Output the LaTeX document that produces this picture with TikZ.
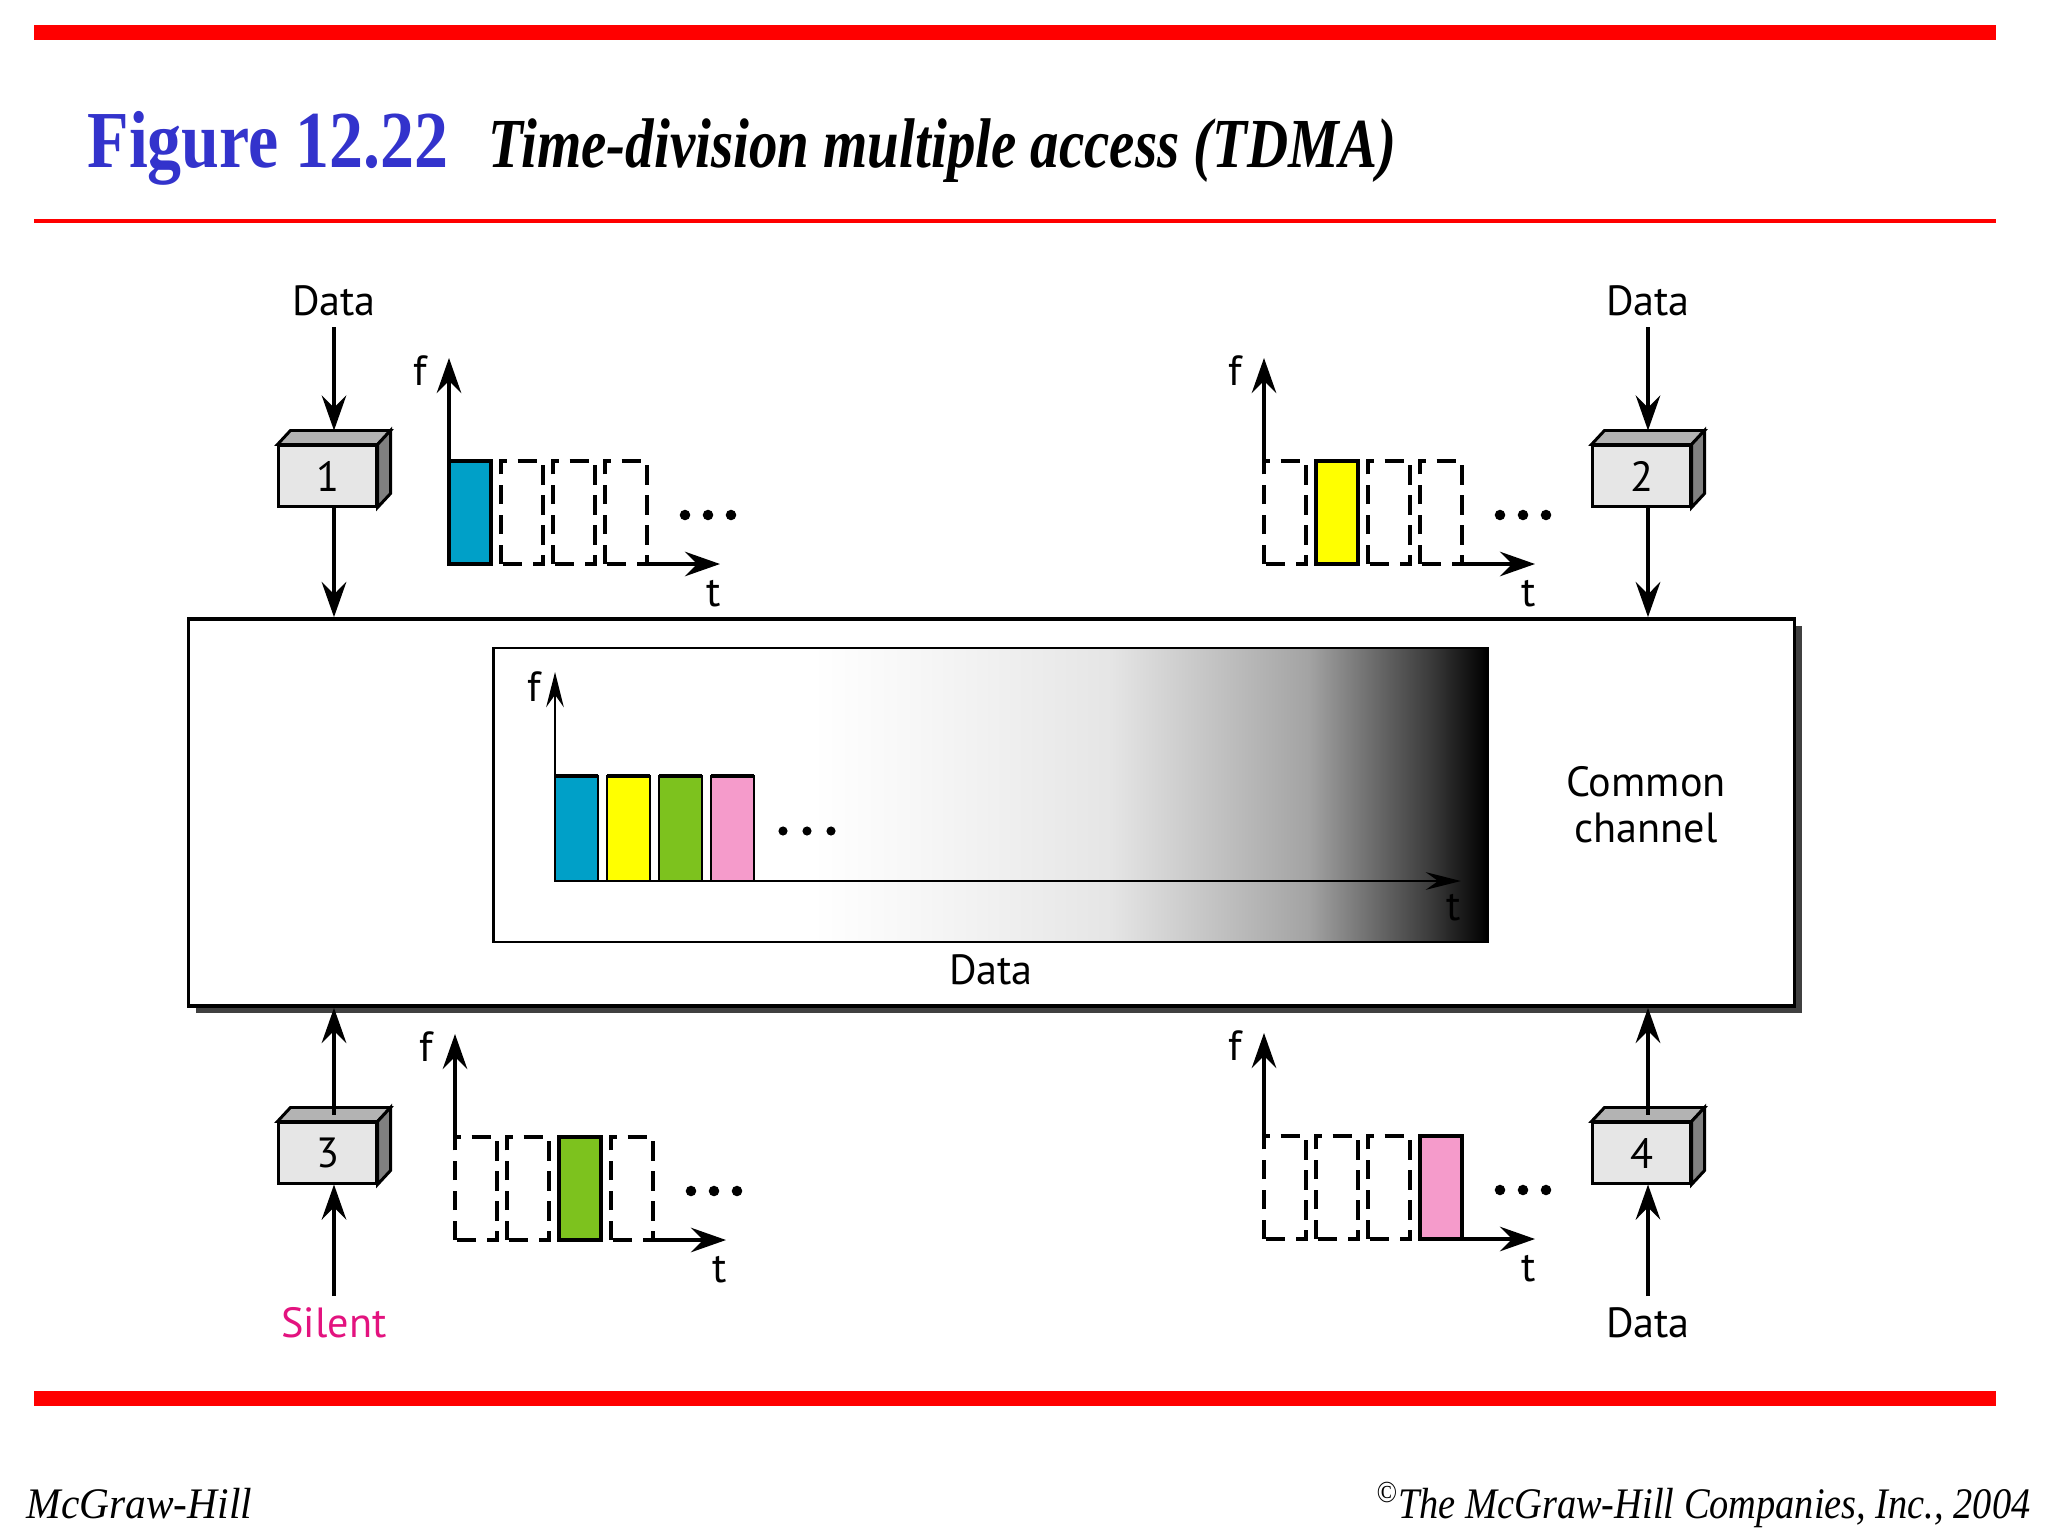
\documentclass[tikz,border=0pt]{standalone}
\usepackage{fontspec}
\setmainfont{Liberation Serif}
\newfontfamily\diagfont{PT Sans}
\usetikzlibrary{arrows.meta, positioning, calc, shadows}
\definecolor{slidered}{HTML}{FF0000}
\definecolor{figblue}{HTML}{3333CC}
\definecolor{slotblue}{HTML}{00A0C8}
\definecolor{slotyellow}{HTML}{FFFF00}
\definecolor{slotgreen}{HTML}{7DC21E}
\definecolor{slotpink}{HTML}{F59BCB}
\definecolor{silentpink}{HTML}{E3137F}
\definecolor{boxfront}{HTML}{E6E6E6}
\definecolor{boxtop}{HTML}{B3B3B3}
\definecolor{boxside}{HTML}{808080}
\pgfdeclarehorizontalshading{fadeblack}{100bp}{color(0bp)=(white); color(25bp)=(white);
  color(41bp)=(white); color(46bp)=(black!3); color(56bp)=(black!10); color(66bp)=(black!36);
  color(72bp)=(black!76); color(75bp)=(black); color(100bp)=(black)}
\tikzset{
  station/.style   = {rectangle, draw=black, line width=0.85pt, fill=boxfront,
                      minimum width=0.97cm, minimum height=0.6cm, inner sep=0pt,
                      font=\diagfont\fontsize{12}{12}\selectfont},
  facetop/.style   = {draw=black, line width=0.85pt, fill=boxtop},
  faceside/.style  = {draw=black, line width=0.85pt, fill=boxside},
  chanbox/.style   = {rectangle, draw=black, line width=1pt, fill=white,
                      general shadow={fill=black!75, shadow xshift=2pt, shadow yshift=-2pt}},
  muxbox/.style    = {rectangle, draw=black, line width=0.7pt, shading=fadeblack},
  lbl/.style       = {font=\diagfont\fontsize{12}{13}\selectfont, inner sep=3pt},
  foot/.style      = {font=\fontsize{12.4}{12.4}\selectfont\itshape, inner sep=0pt},
  flow/.style      = {-{Stealth[length=10pt, width=7pt, inset=3.5pt]}, line width=1.1pt},
  axis/.style      = {-{Stealth[length=10pt, width=7pt, inset=3.5pt]}, line width=0.9pt},
  thinaxis/.style  = {-{Stealth[length=10pt, width=5pt, inset=3.5pt]}, line width=0.7pt},
  slotfull/.style  = {draw=black, line width=0.9pt},
  slotempty/.style = {draw=black, line width=1pt, dash pattern=on 5.5pt off 3pt},
}
% 3-d station box: #1 name, #2/#3 centre of front face, #4 number
\newcommand{\stationbox}[4]{
  \node[station] (#1) at (#2,#3) {#4};
  \path[facetop] (#1.north west) -- ++(13,-14) -- ($(#1.north east)+(13,-14)$) -- (#1.north east) -- cycle;
  \path[faceside] (#1.north east) -- ++(13,-14) -- ($(#1.south east)+(13,-14)$) -- (#1.south east) -- cycle;
  \coordinate (#1top) at ($(#1.north)+(6.5,-14)$);
  \coordinate (#1mid) at ($(#1.north)+(6.5,-7)$);
}
% f/t slot chart: #1 name, #2/#3 origin, #4 used slot, #5 colour
\newcommand{\tdmachart}[5]{
  \coordinate (#1o) at (#2,#3);
  \foreach \k in {0,...,3}{
    \ifnum\k=#4
      \draw[slotfull, fill=#5] ($(#1o)+(52*\k,0)$) rectangle ++(42,-103);
    \else
      \draw[slotempty] ($(#1o)+(52*\k,0)$) rectangle ++(42,-103);
    \fi
  }
  \draw[axis] ($(#1o)+(0,-103)$) -- ++(0,-103);
  \draw[axis] ($(#1o)+(198,0)$) -- ++(73,0);
  \foreach \d in {236,259,282}
    \fill ($(#1o)+(\d,-49)$) circle (1.5pt);
  \node[lbl, inner sep=0pt] (#1f) at ($(#1o)+(-29,-193)$) {f};
  \node[lbl, inner sep=0pt] (#1t) at ($(#1o)+(265,30)$) {t};
}

\begin{document}
\begin{tikzpicture}[x=0.01cm, y=-0.01cm]
  \fill[white] (0,0) rectangle (2048,1536);
  \useasboundingbox (0,0) rectangle (2048,1536);

  % slide frame
  \fill[slidered] (34,25) rectangle (1996,40);
  \fill[slidered] (34,219) rectangle (1996,223);
  \fill[slidered] (34,1391) rectangle (1996,1406);
  \node[font=\fontsize{23}{23}\selectfont\bfseries, text=figblue, anchor=base west,
        inner sep=0pt, xscale=0.84] (figno) at (87,167) {Figure 12.22};
  \node[font=\fontsize{20}{20}\selectfont\bfseries\itshape, anchor=base west,
        inner sep=0pt, xscale=0.81] (figtitle) at (488,167) {Time-division multiple access (TDMA)};
  \node[foot, anchor=base west, xscale=0.95] (pub) at (26,1518) {McGraw-Hill};
  \node[foot, anchor=base east, xscale=0.88] (copy) at (2031,1518)
        {\textsuperscript{\copyright}The McGraw-Hill Companies, Inc., 2004};

  % common channel
  \node[chanbox, minimum width=16.05cm, minimum height=3.87cm] (chan) at (991.5,812.5) {};
  \node[muxbox, minimum width=9.93cm, minimum height=2.94cm] (mux) at (990.5,795) {};
  \coordinate (muxo) at (555,881);
  \foreach \c [count=\i from 0] in {slotblue,slotyellow,slotgreen,slotpink}{
    \draw[slotfull, line width=0.7pt, fill=\c] ($(muxo)+(52*\i,0)$) rectangle ++(43,-105);
    \draw[line width=1.4pt] ($(muxo)+(52*\i,-105)$) -- ++(43,0);
  }
  \draw[thinaxis] (muxo) -- ++(0,-209);
  \draw[thinaxis] (muxo) -- ++(906,0);
  \foreach \d in {783,807,831}
    \fill (\d,831) circle (1.3pt);
  \node[lbl, inner sep=0pt] (muxf) at (534,687) {f};
  \node[lbl, inner sep=0pt] (muxt) at (1454,908) {t};
  \node[lbl] (chandata) at (991,970) {Data};
  \node[lbl, align=center] (chanlbl) at (1646,805) {Common\\channel};

  % stations
  \stationbox{s1}{327.5}{476}{1}
  \stationbox{s2}{1641.5}{476}{2}
  \stationbox{s3}{327.5}{1153}{3}
  \stationbox{s4}{1641.5}{1153}{4}

  \node[lbl, anchor=south] (d1) at (334,327) {Data};
  \node[lbl, anchor=south] (d2) at (1648,327) {Data};
  \node[lbl, anchor=north, text=silentpink] (d3) at (334,1296) {Silent};
  \node[lbl, anchor=north] (d4) at (1648,1296) {Data};

  \draw[flow] (d1.south) -- (s1top);
  \draw[flow] (s1top |- s1.south) -- (s1top |- chan.north);
  \draw[flow] (d2.south) -- (s2top);
  \draw[flow] (s2top |- s2.south) -- (s2top |- chan.north);
  \draw[flow] (d3.north) -- (s3top |- s3.south);
  \draw[flow] (s3mid) -- (s3mid |- chan.south);
  \draw[flow] (d4.north) -- (s4top |- s4.south);
  \draw[flow] (s4mid) -- (s4mid |- chan.south);

  % per-station slot charts
  \tdmachart{c1}{449}{564}{0}{slotblue}
  \tdmachart{c2}{1264}{564}{1}{slotyellow}
  \tdmachart{c3}{455}{1240}{2}{slotgreen}
  \tdmachart{c4}{1264}{1239}{3}{slotpink}
\end{tikzpicture}
\end{document}
